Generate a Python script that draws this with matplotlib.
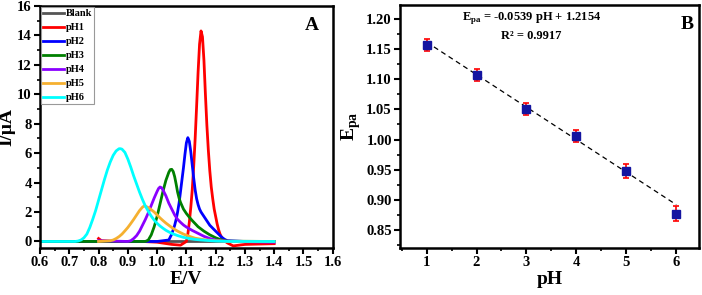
import numpy as np
import matplotlib
matplotlib.use("Agg")
import matplotlib.pyplot as plt
from matplotlib.ticker import MultipleLocator, AutoMinorLocator

plt.rcParams['font.family'] = ['Liberation Serif', 'DejaVu Serif']
plt.rcParams['font.weight'] = 'bold'
plt.rcParams['axes.labelweight'] = 'bold'
plt.rcParams['mathtext.fontset'] = 'custom'
plt.rcParams['mathtext.rm'] = 'Liberation Serif:bold'
plt.rcParams['mathtext.bf'] = 'Liberation Serif:bold'

# --- panel A: DPV curves ---
blank_E = [0.60, 1.40]
blank_I = [0.0, 0.0]

ph1_E = [0.80, 0.81, 0.85, 0.95, 1.00, 1.05, 1.08, 1.100, 1.105, 1.110, 1.115, 1.120,
         1.125, 1.130, 1.135, 1.140, 1.145, 1.150, 1.155, 1.160, 1.165, 1.170, 1.175,
         1.180, 1.185, 1.190, 1.195, 1.200, 1.205, 1.210, 1.215, 1.220, 1.230, 1.240,
         1.26, 1.30, 1.40]
ph1_I = [0.2, 0.05, 0.0, 0.0, -0.05, -0.2, -0.25, 0.0, 0.5, 1.3, 2.3, 3.5,
         5.1, 7.0, 9.2, 11.5, 13.4, 14.3, 13.9, 12.3, 10.0, 7.9, 6.2,
         4.8, 3.7, 2.9, 2.2, 1.7, 1.2, 0.8, 0.5, 0.3, 0.05, -0.1,
         -0.3, -0.2, -0.15]

ph2_E = [0.60, 1.00, 1.04, 1.05, 1.055, 1.06, 1.065, 1.07, 1.075, 1.08, 1.085, 1.09,
         1.095, 1.10, 1.105, 1.11, 1.115, 1.12, 1.125, 1.13, 1.135, 1.14, 1.145, 1.15,
         1.16, 1.17, 1.18, 1.19, 1.20, 1.21, 1.22, 1.23, 1.24, 1.30, 1.40]
ph2_I = [0.0, 0.0, 0.1, 0.5, 0.8, 1.1, 1.5, 2.0, 2.6, 3.4, 4.2, 5.0,
         5.9, 6.7, 7.05, 6.8, 6.1, 5.2, 4.3, 3.5, 2.9, 2.5, 2.2, 2.0,
         1.7, 1.4, 1.1, 0.9, 0.7, 0.5, 0.3, 0.15, 0.05, 0.0, 0.0]

ph3_E = [0.60, 0.96, 0.97, 0.98, 0.99, 1.00, 1.01, 1.02, 1.03, 1.04, 1.045, 1.05, 1.055,
         1.06, 1.065, 1.07, 1.075, 1.08, 1.09, 1.10, 1.11, 1.12, 1.14, 1.16, 1.18,
         1.20, 1.22, 1.24, 1.40]
ph3_I = [0.0, 0.0, 0.1, 0.45, 1.0, 1.7, 2.55, 3.4, 4.15, 4.7, 4.88, 4.9, 4.75,
         4.4, 3.9, 3.35, 2.95, 2.65, 2.2, 1.9, 1.65, 1.42, 1.0, 0.7, 0.45,
         0.25, 0.1, 0.02, 0.0]

ph4_E = [0.80, 0.90, 0.91, 0.92, 0.93, 0.94, 0.95, 0.96, 0.97, 0.98, 0.99, 1.00, 1.005,
         1.01, 1.015, 1.02, 1.03, 1.04, 1.05, 1.06, 1.07, 1.08, 1.09, 1.10, 1.12,
         1.14, 1.16, 1.18, 1.20, 1.22, 1.25, 1.40]
ph4_I = [0.05, 0.0, 0.05, 0.2, 0.4, 0.7, 1.1, 1.5, 1.95, 2.45, 2.95, 3.4, 3.6,
         3.7, 3.65, 3.5, 3.1, 2.6, 2.2, 1.8, 1.5, 1.3, 1.12, 0.98, 0.75,
         0.55, 0.35, 0.2, 0.1, 0.04, 0.0, -0.05]

ph5_E = [0.80, 0.84, 0.85, 0.86, 0.87, 0.88, 0.89, 0.90, 0.91, 0.92, 0.93, 0.94, 0.95,
         0.955, 0.96, 0.97, 0.98, 0.99, 1.00, 1.01, 1.02, 1.03, 1.04, 1.05, 1.06,
         1.07, 1.08, 1.09, 1.10, 1.11, 1.13, 1.16, 1.20, 1.25, 1.40]
ph5_I = [0.0, 0.05, 0.1, 0.2, 0.33, 0.5, 0.72, 0.95, 1.22, 1.5, 1.8, 2.1, 2.33,
         2.4, 2.4, 2.3, 2.16, 2.0, 1.8, 1.6, 1.42, 1.25, 1.1, 0.95, 0.82,
         0.7, 0.6, 0.5, 0.42, 0.35, 0.22, 0.12, 0.05, 0.0, 0.0]

ph6_E = [0.60, 0.72, 0.73, 0.74, 0.75, 0.76, 0.77, 0.78, 0.79, 0.80, 0.81, 0.82, 0.83,
         0.84, 0.85, 0.86, 0.87, 0.875, 0.88, 0.89, 0.90, 0.91, 0.92, 0.93, 0.94,
         0.95, 0.96, 0.97, 0.98, 0.99, 1.00, 1.01, 1.02, 1.03, 1.04, 1.05, 1.07,
         1.09, 1.11, 1.13, 1.15, 1.20, 1.25, 1.40]
ph6_I = [0.0, 0.0, 0.03, 0.1, 0.25, 0.5, 0.95, 1.5, 2.1, 2.8, 3.5, 4.2, 4.85,
         5.4, 5.85, 6.15, 6.3, 6.3, 6.27, 6.05, 5.6, 5.05, 4.45, 3.9, 3.35,
         2.85, 2.4, 2.05, 1.72, 1.45, 1.23, 1.05, 0.9, 0.76, 0.65, 0.55, 0.4,
         0.28, 0.2, 0.14, 0.1, 0.03, 0.0, 0.0]

curve_labels = ["Blank", "pH1", "pH2", "pH3", "pH4", "pH5", "pH6"]
curve_colors = ["#555555", "#ff0000", "#0000ff", "#008000", "#8a00ff", "#f5b030", "#00ffff"]

# --- panel B: Epa vs pH ---
ph = [1, 2, 3, 4, 5, 6]
epa = [1.157, 1.107, 1.051, 1.006, 0.948, 0.877]
epa_err = [0.0095, 0.0103, 0.010, 0.0105, 0.011, 0.0125]
slope = -0.0539
intercept = 1.2154

fig = plt.figure(figsize=(7.02, 2.95), dpi=100)
axA = fig.add_axes([0.057, 0.159, 0.417, 0.821])
axB = fig.add_axes([0.570, 0.159, 0.426, 0.824])

curves = [(blank_E, blank_I), (ph1_E, ph1_I), (ph2_E, ph2_I), (ph3_E, ph3_I),
          (ph4_E, ph4_I), (ph5_E, ph5_I), (ph6_E, ph6_I)]
for (e, i), lab, col in zip(curves, curve_labels, curve_colors):
    axA.plot(e, i, color=col, lw=2.0, label=lab)

axA.set_xlim(0.6, 1.6)
axA.set_ylim(-0.45, 16)
axA.xaxis.set_minor_locator(AutoMinorLocator(2))
axA.yaxis.set_major_locator(MultipleLocator(2))
axA.yaxis.set_minor_locator(AutoMinorLocator(2))
xt = np.arange(0.6, 1.61, 0.1)
axA.set_xticks(xt)
axA.set_xticklabels([f"{v:.1f}" for v in xt])
axA.set_xlabel("E/V", fontsize=14, labelpad=1)
axA.set_ylabel("I/μA", fontsize=14, labelpad=1)
axA.text(0.927, 0.92, "A", transform=axA.transAxes, fontsize=14, fontweight='bold',
         ha='center', va='center')
leg = axA.legend(loc='upper left', fontsize=7.5, handlelength=2.0, handletextpad=0.15,
                 labelspacing=0.45, borderpad=0.2, borderaxespad=0.1, fancybox=False,
                 framealpha=1)
leg.get_frame().set_edgecolor("#999999")
leg.get_frame().set_linewidth(0.8)

# panel B
xfit = np.array([1, 6])
axB.plot(xfit, slope * xfit + intercept, ls=(0, (4, 3)), color='black', lw=0.9, zorder=2)
axB.errorbar(ph, epa, yerr=epa_err, fmt='s', color='#1414a0', ms=5.5,
             ecolor='red', elinewidth=1.2, capsize=2.5, capthick=1.2, zorder=3)
axB.set_xlim(0.47, 6.46)
axB.set_ylim(0.82, 1.223)
axB.xaxis.set_major_locator(MultipleLocator(1))
axB.xaxis.set_minor_locator(AutoMinorLocator(2))
axB.yaxis.set_major_locator(MultipleLocator(0.05))
axB.yaxis.set_minor_locator(AutoMinorLocator(2))
axB.yaxis.set_major_formatter(plt.FormatStrFormatter('%.2f'))
axB.set_xlabel("pH", fontsize=14, labelpad=1)
axB.set_ylabel("E$_{\\mathregular{pa}}$", fontsize=14, labelpad=2)
axB.text(3.1, 1.201, "E$_{\\mathregular{pa}}$ = -0.0539 pH + 1.2154", fontsize=9,
         fontweight='bold', ha='center', va='center')
axB.text(3.1, 1.172, "R² = 0.9917", fontsize=9, fontweight='bold',
         ha='center', va='center')
axB.text(0.959, 0.918, "B", transform=axB.transAxes, fontsize=14, fontweight='bold',
         ha='center', va='center')

for ax in (axA, axB):
    for sp in ax.spines.values():
        sp.set_linewidth(1.8)
    ax.tick_params(which='major', direction='out', length=4, width=1.5, labelsize=10.5, pad=2)
    ax.tick_params(which='minor', direction='out', length=2, width=1.2)
    for lbl in ax.get_xticklabels() + ax.get_yticklabels():
        lbl.set_fontweight('bold')

fig.savefig("out.png", dpi=100)
